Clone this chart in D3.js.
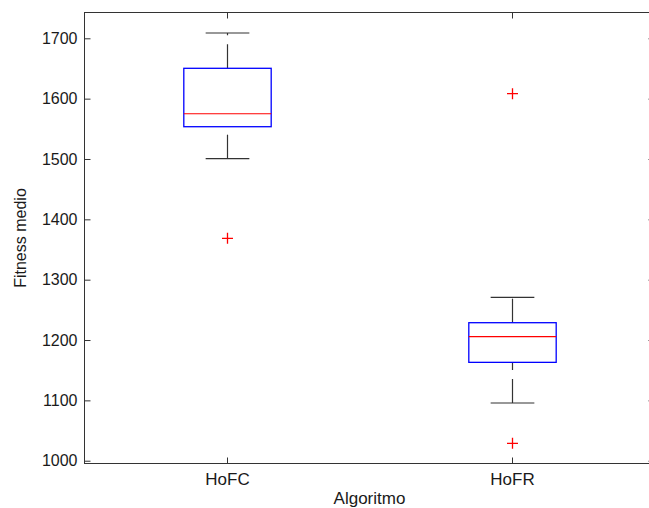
<!DOCTYPE html>
<html>
<head>
<meta charset="utf-8">
<script src="https://cdn.jsdelivr.net/npm/d3@7/dist/d3.min.js"></script>
<style>
  html, body { margin: 0; padding: 0; background: #fff; }
  svg { display: block; }
  text { font-family: Arial, "Liberation Sans", sans-serif; fill: #1a1a1a; }
</style>
</head>
<body>
<svg id="chart" width="649" height="508"></svg>
<script>
// ---- data ----
const categories = ["HoFC", "HoFR"];
const lowerWhisker = [1500.5, 1095.6];
const q1 = [1553.5, 1163.0];
const median = [1575.0, 1205.5];
const q3 = [1650.3, 1228.7];
const upperWhisker = [1708.8, 1270.8];
const outliers = [[1368.5], [1608.2, 1028.8]];
const yTicks = [1000, 1100, 1200, 1300, 1400, 1500, 1600, 1700];
const xTitle = "Algoritmo";
const yTitle = "Fitness medio";

// ---- layout ----
const svg = d3.select("#chart");
const pLeft = 84.5, pRight = 654.5, pTop = 12.5, pBottom = 463.5;
const x = d3.scaleLinear().domain([0.5, 2.5]).range([pLeft, pRight]);
const y = d3.scaleLinear().domain([995.7, 1743.6]).range([463.3, 12]);
const axisColor = "#333";

// Axes
const gx = svg.append("g").attr("transform", `translate(0,${pBottom})`)
  .call(d3.axisBottom(x).tickValues([1, 2]).tickFormat((d) => categories[d - 1])
    .tickSizeInner(-6).tickSizeOuter(0).tickPadding(9));
const gxt = svg.append("g").attr("transform", `translate(0,${pTop})`)
  .call(d3.axisTop(x).tickValues([1, 2]).tickFormat("")
    .tickSizeInner(-6).tickSizeOuter(0));
const gy = svg.append("g").attr("transform", `translate(${pLeft},0)`)
  .call(d3.axisLeft(y).tickValues(yTicks).tickFormat(d3.format("d"))
    .tickSizeInner(-6).tickSizeOuter(0).tickPadding(7));
const gyr = svg.append("g").attr("transform", `translate(${pRight},0)`)
  .call(d3.axisRight(y).tickValues(yTicks).tickFormat("")
    .tickSizeInner(-6).tickSizeOuter(0));

[gx, gxt, gy, gyr].forEach(g => {
  g.select(".domain").remove();
  g.selectAll(".tick line").attr("stroke", axisColor);
  g.selectAll(".tick text").attr("fill", "#1a1a1a")
    .style("font-family", "Arial, 'Liberation Sans', sans-serif");
});
gy.selectAll(".tick text").style("font-size", "16px");
gx.selectAll(".tick text").style("font-size", "17px");

// axes frame
svg.append("rect")
  .attr("x", pLeft).attr("y", pTop)
  .attr("width", pRight - pLeft).attr("height", pBottom - pTop)
  .attr("fill", "none").attr("stroke", axisColor).attr("stroke-width", 1);

// Titles
svg.append("text")
  .attr("x", (pLeft + pRight) / 2).attr("y", 504)
  .attr("text-anchor", "middle").style("font-size", "17px")
  .text(xTitle);
svg.append("text")
  .attr("transform", `translate(26,${(pTop + pBottom) / 2}) rotate(-90)`)
  .attr("text-anchor", "middle").style("font-size", "16px")
  .text(yTitle);

// ---- boxes ----
const boxHalf = 0.1533 * (x(2) - x(1));
const capHalf = boxHalf / 2;
const data = categories.map((c, i) => ({
  i: i + 1, lw: lowerWhisker[i], q1: q1[i], med: median[i], q3: q3[i], uw: upperWhisker[i], out: outliers[i]
}));

const g = svg.append("g");
data.forEach(d => {
  const cx = Math.round(x(d.i)) + 0.5;
  // whiskers (dashed, drawn bottom to top)
  g.append("line").attr("x1", cx).attr("x2", cx)
    .attr("y1", y(d.lw)).attr("y2", y(d.q1))
    .attr("stroke", axisColor).attr("stroke-width", 1.2).attr("stroke-dasharray", "24,9");
  g.append("line").attr("x1", cx).attr("x2", cx)
    .attr("y1", y(d.q3)).attr("y2", y(d.uw))
    .attr("stroke", axisColor).attr("stroke-width", 1.2).attr("stroke-dasharray", "24,9");
  // caps
  [d.lw, d.uw].forEach(v => {
    g.append("line").attr("x1", cx - capHalf).attr("x2", cx + capHalf)
      .attr("y1", y(v)).attr("y2", y(v))
      .attr("stroke", axisColor).attr("stroke-width", 1.2);
  });
  // box
  g.append("rect")
    .attr("x", cx - boxHalf).attr("width", 2 * boxHalf)
    .attr("y", y(d.q3)).attr("height", y(d.q1) - y(d.q3))
    .attr("fill", "none").attr("stroke", "#0000ff").attr("stroke-width", 1.3);
  // median
  g.append("line").attr("x1", cx - boxHalf).attr("x2", cx + boxHalf)
    .attr("y1", y(d.med)).attr("y2", y(d.med))
    .attr("stroke", "#ff0000").attr("stroke-width", 1.2);
  // outliers
  d.out.forEach(v => {
    const py = y(v);
    g.append("path")
      .attr("d", `M${cx - 5.5},${py}H${cx + 5.5}M${cx},${py - 5.5}V${py + 5.5}`)
      .attr("stroke", "#ff0000").attr("stroke-width", 1.3).attr("fill", "none");
  });
});
</script>
</body>
</html>
